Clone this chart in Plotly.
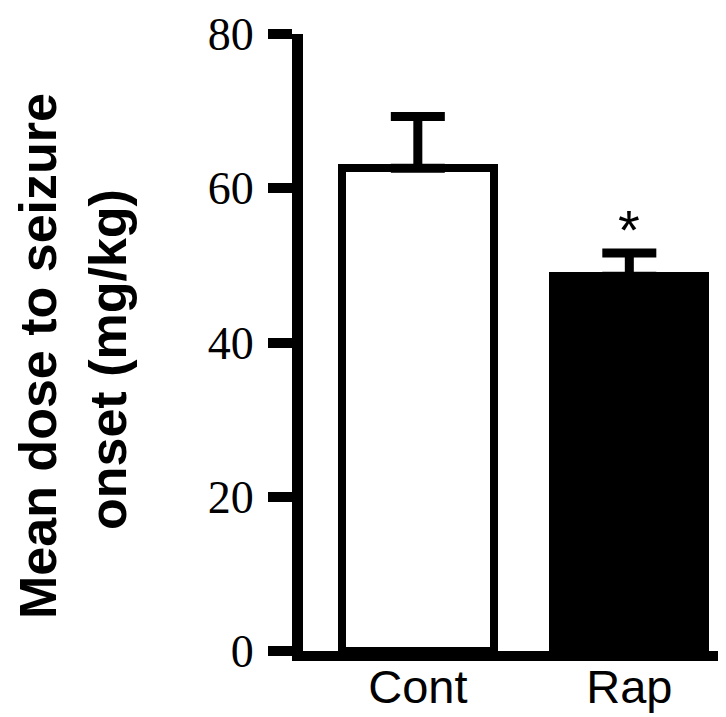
import plotly.graph_objects as go

# Data
categories = ["Cont", "Rap"]
mean_dose = [62.6, 48.6]
sem_upper = [6.7, 3.0]
bar_fill = ["white", "black"]
significance = ["", "*"]
y_ticks = [0, 20, 40, 60, 80]
y_title_lines = ["Mean dose to seizure", "onset (mg/kg)"]

W, H = 726, 717
L, R, T, B = 295, 0, 26, 74
plot_w = W - L - R

fig = go.Figure()
fig.add_trace(go.Bar(
    x=categories,
    y=mean_dose,
    width=0.72,
    marker=dict(color=bar_fill, line=dict(color="black", width=8)),
    error_y=dict(type="data", array=sem_upper, arrayminus=[0, 0], symmetric=False,
                 color="black", thickness=9, width=27),
    showlegend=False,
))

# significance marks
for c, v, e, s in zip(categories, mean_dose, sem_upper, significance):
    if s:
        fig.add_annotation(x=c, y=v + e, text=s, showarrow=False, yanchor="bottom",
                           yshift=-10, font=dict(family="Liberation Sans", size=56, color="black"))

# y-axis title as two rotated lines
def px_to_paper(px):
    return (px - L) / plot_w

fig.add_annotation(xref="paper", yref="paper", x=px_to_paper(30), y=1 - (348 - T) / (H - T - B),
                   text="<b>" + y_title_lines[0] + "</b>", textangle=-90, showarrow=False,
                   xanchor="center", yanchor="middle",
                   font=dict(family="Liberation Sans", size=52, color="black"))
fig.add_annotation(xref="paper", yref="paper", x=px_to_paper(100), y=1 - (352 - T) / (H - T - B),
                   text="<b>" + y_title_lines[1] + "</b>", textangle=-90, showarrow=False,
                   xanchor="center", yanchor="middle",
                   font=dict(family="Liberation Sans", size=52, color="black"))

fig.update_layout(
    width=W, height=H,
    margin=dict(l=L, r=R, t=T, b=B, pad=0, autoexpand=False),
    paper_bgcolor="white", plot_bgcolor="white",
    bargap=0,
)
fig.update_xaxes(
    range=[-0.543, 1.495], showline=True, linecolor="black", linewidth=10,
    ticks="", showgrid=False, zeroline=False, ticklabelstandoff=-14, automargin=False,
    tickfont=dict(family="Liberation Sans", size=47, color="black"),
)
fig.update_yaxes(
    range=[0, 80], tickvals=y_ticks, showline=True, linecolor="black", linewidth=11,
    ticks="outside", ticklen=24, tickwidth=10, tickcolor="black", automargin=False,
    showgrid=False, zeroline=False, ticklabeloverflow="allow", ticklabelstandoff=5,
    tickfont=dict(family="Liberation Serif", size=46, color="black"),
)

fig.write_html("out.html")
